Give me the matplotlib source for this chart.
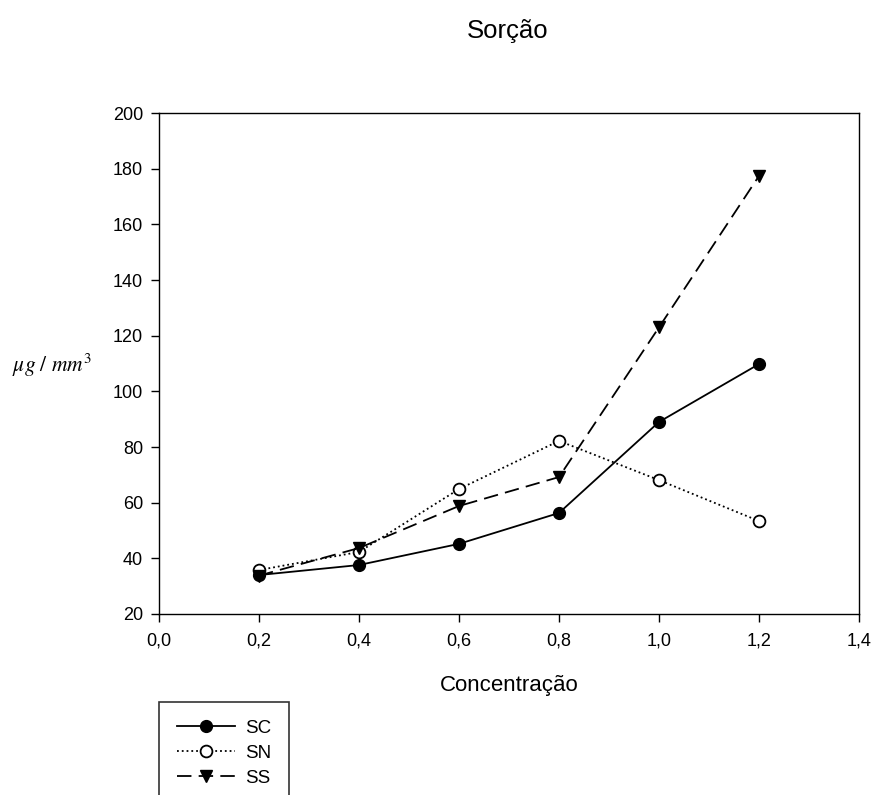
import matplotlib
matplotlib.use("Agg")
import matplotlib.pyplot as plt
from matplotlib.ticker import FuncFormatter

plt.rcParams['font.family'] = ['Liberation Sans', 'DejaVu Sans']

conc = [0.2, 0.4, 0.6, 0.8, 1.0, 1.2]
sc = [34.0, 37.6, 45.2, 56.3, 89.0, 109.8]
sn = [35.8, 42.3, 64.9, 82.2, 68.1, 53.4]
ss = [33.8, 43.7, 58.8, 69.2, 123.0, 177.4]

xticks = [0.0, 0.2, 0.4, 0.6, 0.8, 1.0, 1.2, 1.4]
yticks = [20, 40, 60, 80, 100, 120, 140, 160, 180, 200]

fig = plt.figure(figsize=(8.75, 7.95), dpi=100)
ax = fig.add_axes([159/875, 1 - 614/795, (859-159)/875, (614-113)/795])

l1, = ax.plot(conc, sc, '-', color='black', lw=1.3, marker='o', ms=8.5,
              mfc='black', mec='black', label='SC')
l2, = ax.plot(conc, sn, ':', color='black', lw=1.3, marker='o', ms=8.5,
              mfc='white', mec='black', mew=1.3, label='SN')
l3, = ax.plot(conc, ss, color='black', lw=1.3, marker='v', ms=8.5,
              mfc='black', mec='black', label='SS', dashes=(8, 4))

ax.set_xlim(0, 1.4)
ax.set_ylim(20, 200)
ax.set_xticks(xticks)
ax.set_yticks(yticks)
ax.xaxis.set_major_formatter(FuncFormatter(lambda v, p: f"{v:.1f}".replace('.', ',')))
ax.tick_params(direction='out', length=5.5, width=1, labelsize=13,
               top=False, right=False)
ax.tick_params(axis='x', pad=8)
ax.tick_params(axis='y', pad=6)
for s in ax.spines.values():
    s.set_linewidth(1)

ax.set_xlabel('Concentração', fontsize=16, labelpad=18)
fig.text(12/875, 1 - 365/795, r'$\mu g\ /\ mm^3$', fontsize=15.5, ha='left', va='center',
         math_fontfamily='stix')
fig.text(508/875, 1 - 31/795, 'Sorção', fontsize=18.5, ha='center', va='center')

leg = fig.legend(handles=[l1, l2, l3], loc='upper left',
                 bbox_to_anchor=(159/875, 1 - 702/795), borderaxespad=0,
                 frameon=True, fancybox=False,
                 edgecolor='black', fontsize=13.5, handlelength=3.1, borderpad=0.95,
                 labelspacing=0.42, handletextpad=0.55)
leg.get_frame().set_linewidth(1.2)

fig.savefig('out.png', dpi=100)
